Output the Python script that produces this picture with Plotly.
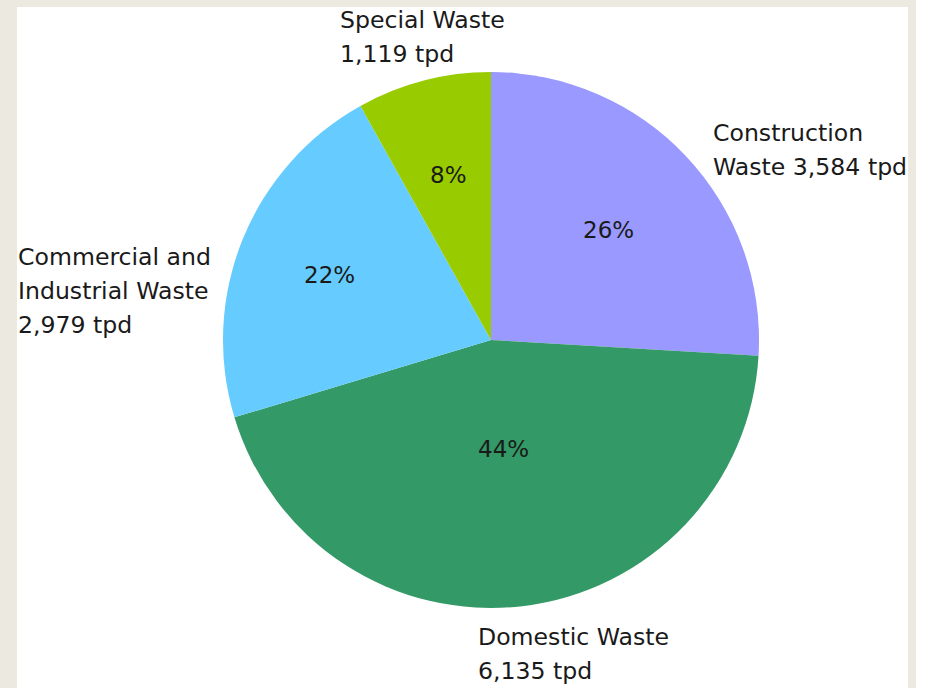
import math
import plotly.graph_objects as go

categories = ["Construction Waste", "Domestic Waste", "Commercial and Industrial Waste", "Special Waste"]
values_tpd = [3584, 6135, 2979, 1119]
label_lines = [
    ["Construction", "Waste 3,584 tpd"],
    ["Domestic Waste", "6,135 tpd"],
    ["Commercial and", "Industrial Waste", "2,979 tpd"],
    ["Special Waste", "1,119 tpd"],
]
colors = ["#9999FF", "#339966", "#66CCFF", "#99CC00"]

W, H = 928, 688
FONT = "DejaVu Sans"
CX, CY, R = 491, 340, 268

# outside label anchor positions (pixels: left x, first line centre y)
label_pos = [(711, 133), (476, 637), (16, 257), (338, 20)]
line_gap = 34
# radial placement of the percentage labels (fraction of radius)
pct_radius = [0.60, 0.41, 0.65, 0.635]

fig = go.Figure()
fig.add_trace(go.Pie(
    labels=categories,
    values=values_tpd,
    sort=False,
    direction="clockwise",
    rotation=0,
    marker=dict(colors=colors, line=dict(width=0)),
    textinfo="none",
    hoverinfo="skip",
    showlegend=False,
    domain=dict(x=[(CX - R) / W, (CX + R) / W], y=[(H - CY - R) / H, (H - CY + R) / H]),
))

shapes = [
    dict(type="rect", xref="paper", yref="paper", x0=17 / W, x1=908 / W, y0=0, y1=(H - 7) / H,
         fillcolor="white", line=dict(width=0), layer="below"),
    dict(type="rect", xref="paper", yref="paper", x0=916 / W, x1=1, y0=0, y1=1,
         fillcolor="white", line=dict(width=0), layer="below"),
]

annotations = []
for lines, (lx, ly) in zip(label_lines, label_pos):
    for i, line in enumerate(lines):
        yc = ly + i * line_gap
        annotations.append(dict(
            x=lx / W, y=1 - yc / H, xref="paper", yref="paper",
            xanchor="left", yanchor="middle", showarrow=False, align="left",
            text=line, font=dict(family=FONT, size=23.6, color="#1a1a1a"),
        ))

total = sum(values_tpd)
cum = 0
for v, rf in zip(values_tpd, pct_radius):
    mid = (cum + v / 2) / total * 2 * math.pi
    cum += v
    px = CX + rf * R * math.sin(mid)
    py = CY - rf * R * math.cos(mid)
    annotations.append(dict(
        x=px / W, y=1 - py / H, xref="paper", yref="paper",
        xanchor="center", yanchor="middle", showarrow=False,
        text=f"{round(v / total * 100)}%",
        font=dict(family=FONT, size=23, color="#1a1a1a"),
    ))

fig.update_layout(
    width=W, height=H,
    margin=dict(l=0, r=0, t=0, b=0),
    paper_bgcolor="#ECEAE0",
    plot_bgcolor="white",
    shapes=shapes,
    annotations=annotations,
    showlegend=False,
)
fig.write_html(
    "out.html",
    config={"displayModeBar": False},
    post_script="document.body.style.margin='0';document.body.style.overflow='hidden';",
)
